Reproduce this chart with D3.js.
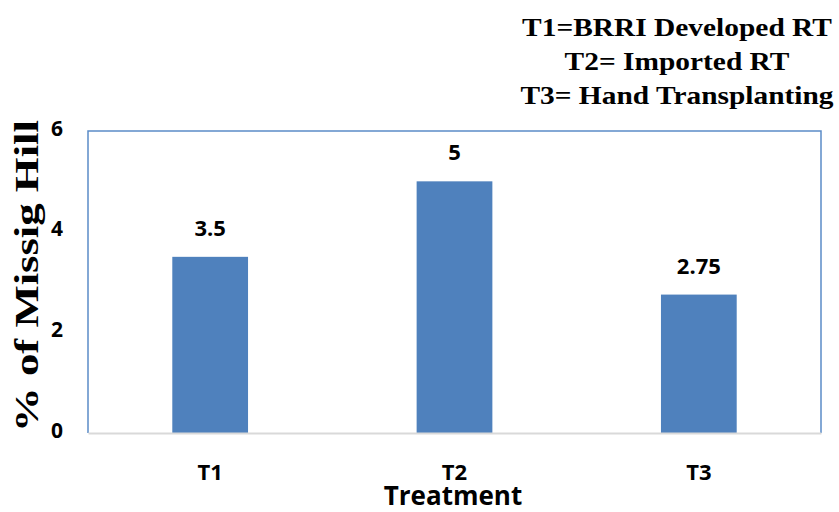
<!DOCTYPE html>
<html>
<head>
<meta charset="utf-8">
<script src="https://cdn.jsdelivr.net/npm/d3@7"></script>
<style>
  html, body { margin: 0; padding: 0; background: #fff; }
  svg { display: block; }
</style>
</head>
<body>
<svg id="chart" width="839" height="512"></svg>
<script>
// Missing-hill percentage by transplanting treatment
const categories = ["T1", "T2", "T3"];
const values = [3.5, 5, 2.75];
const valueLabels = ["3.5", "5", "2.75"];
const yTicks = [0, 2, 4, 6];
const legendLines = ["T1=BRRI Developed RT", "T2= Imported RT", "T3= Hand Transplanting"];

const svg = d3.select("#chart");
const plot = { left: 88, right: 821, top: 131, bottom: 433 };

const x = d3.scaleBand()
  .domain(categories)
  .range([plot.left, plot.right])
  .paddingInner(0.69)
  .paddingOuter(0.345);

const y = d3.scaleLinear()
  .domain([0, 6])
  .range([plot.bottom, plot.top]);

const sans = "'Open Sans', Lato, sans-serif";
const serif = "'Liberation Serif', 'DejaVu Serif', serif";

// Bars
svg.append("g").selectAll("rect")
  .data(values)
  .join("rect")
  .attr("x", (d, i) => x(categories[i]))
  .attr("y", d => y(d))
  .attr("width", x.bandwidth())
  .attr("height", d => y(0) - y(d))
  .attr("fill", "#4F81BD");

// Plot frame: blue on left, top, right; grey category axis line at bottom
svg.append("path")
  .attr("d", `M${plot.left},${plot.bottom}V${plot.top}H${plot.right}V${plot.bottom}`)
  .attr("fill", "none")
  .attr("stroke", "#5B8CC8")
  .attr("stroke-width", 1.5);

const xAxis = svg.append("g")
  .attr("transform", `translate(0,${plot.bottom})`)
  .call(d3.axisBottom(x).tickSize(0).tickPadding(31));
xAxis.select(".domain").attr("stroke", "#D9D9D9").attr("stroke-width", 2);
xAxis.selectAll("text")
  .attr("font-family", sans).attr("font-weight", "bold")
  .attr("font-size", 22).attr("fill", "#000");

const yAxis = svg.append("g")
  .attr("transform", `translate(${plot.left},0)`)
  .call(d3.axisLeft(y).tickValues(yTicks).tickFormat(d3.format("d")).tickSize(0).tickPadding(25));
yAxis.select(".domain").remove();
yAxis.selectAll("text")
  .attr("font-family", sans).attr("font-weight", "bold")
  .attr("font-size", 21).attr("fill", "#000")
  .attr("dy", "0.2em");

// Value labels above bars
svg.append("g").selectAll("text")
  .data(values)
  .join("text")
  .attr("x", (d, i) => x(categories[i]) + x.bandwidth() / 2)
  .attr("y", d => y(d) - 21)
  .attr("text-anchor", "middle")
  .attr("font-family", sans).attr("font-weight", "bold")
  .attr("font-size", 22).attr("fill", "#000")
  .text((d, i) => valueLabels[i]);

// Category axis title
svg.append("text")
  .attr("x", 453)
  .attr("y", 505)
  .attr("text-anchor", "middle")
  .attr("font-family", sans).attr("font-weight", "bold")
  .attr("font-size", 26).attr("fill", "#000")
  .text("Treatment");

// Serif text stretched along its baseline to a set width
function stretchedText(parent, str, cx, cy, rotate, size, width) {
  const g = parent.append("g");
  const t = g.append("text")
    .attr("text-anchor", "middle")
    .attr("font-family", serif).attr("font-weight", "bold")
    .attr("font-size", size).attr("fill", "#000")
    .text(str);
  const sx = width / t.node().getComputedTextLength();
  g.attr("transform", `translate(${cx},${cy}) rotate(${rotate}) scale(${sx},1)`);
  return sx;
}

// Value axis title
stretchedText(svg, "% of Missig Hill", 38, 276, -90, 34, 312);

// Treatment key at top right, lines share the first line's stretch
const keyG = svg.append("g");
const sx0 = stretchedText(keyG, legendLines[0], 677, 36, 0, 26, 310);
legendLines.slice(1).forEach((s, i) => {
  keyG.append("g")
    .attr("transform", `translate(677,${36 + (i + 1) * 34}) scale(${sx0},1)`)
    .append("text")
    .attr("text-anchor", "middle")
    .attr("font-family", serif).attr("font-weight", "bold")
    .attr("font-size", 26).attr("fill", "#000")
    .text(s);
});
</script>
</body>
</html>
